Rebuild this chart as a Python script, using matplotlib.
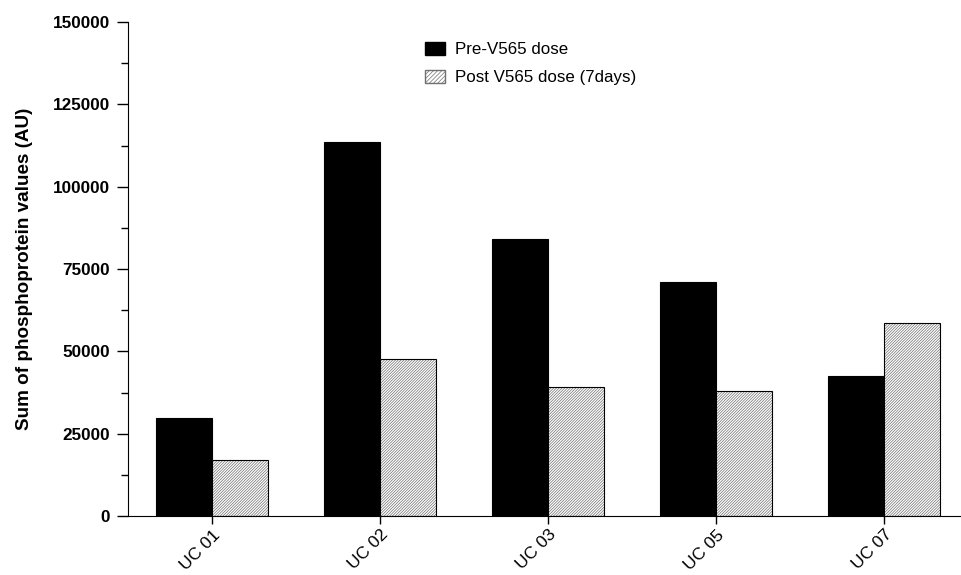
import matplotlib
matplotlib.use("Agg")
import matplotlib.pyplot as plt
import numpy as np
from matplotlib.patches import Patch
from matplotlib.ticker import MultipleLocator

categories = ["UC 01", "UC 02", "UC 03", "UC 05", "UC 07"]
pre_dose = [29800, 113500, 84000, 71000, 42600]
post_dose = [17000, 47800, 39200, 38000, 58700]
series_labels = ["Pre-V565 dose", "Post V565 dose (7days)"]

plt.rcParams['font.family'] = ['Liberation Sans', 'DejaVu Sans']
plt.rcParams['hatch.linewidth'] = 0.5

fig = plt.figure(figsize=(9.61, 5.75), dpi=100)
ax = fig.add_axes([0.1332, 0.1026, 0.8658, 0.8591])

HATCH = '////////////'
HCOL = '#707070'

x = np.arange(len(categories))
w = 1/3
ax.bar(x - w/2, pre_dose, w, color='black', edgecolor='black', linewidth=0.8)
ax.bar(x + w/2, post_dose, w, color='white', edgecolor=HCOL, hatch=HATCH, linewidth=0)
ax.bar(x + w/2, post_dose, w, fill=False, edgecolor='black', linewidth=0.8)

ax.set_xlim(-0.5, 4.45)
ax.set_ylim(0, 150000)
ax.yaxis.set_major_locator(MultipleLocator(25000))
ax.yaxis.set_minor_locator(MultipleLocator(12500))
ax.set_xticks(x)
ax.set_xticklabels(categories, rotation=45, ha='right', rotation_mode='anchor', fontsize=12.5)
for lab in ax.get_yticklabels():
    lab.set_fontweight('bold')
ax.tick_params(axis='y', labelsize=12.3, direction='out', length=8, width=1, pad=5)
ax.tick_params(axis='y', which='minor', length=5, width=1)
ax.tick_params(axis='x', direction='out', length=6, width=1, pad=2)
ax.spines['top'].set_visible(False)
ax.spines['right'].set_visible(False)
ax.set_ylabel("Sum of phosphoprotein values (AU)", fontsize=13.6, fontweight='bold', labelpad=14)

handles = [Patch(facecolor='black', edgecolor='black'),
           Patch(facecolor='white', edgecolor=HCOL, hatch='////////')]
ax.legend(handles, series_labels, loc='upper left', bbox_to_anchor=(0.442, 0.927),
          bbox_transform=fig.transFigure, frameon=False, fontsize=12.2,
          handlelength=1.2, handleheight=0.8, handletextpad=0.6,
          labelspacing=0.75, borderpad=0, borderaxespad=0)

fig.savefig("out.png", dpi=100)
